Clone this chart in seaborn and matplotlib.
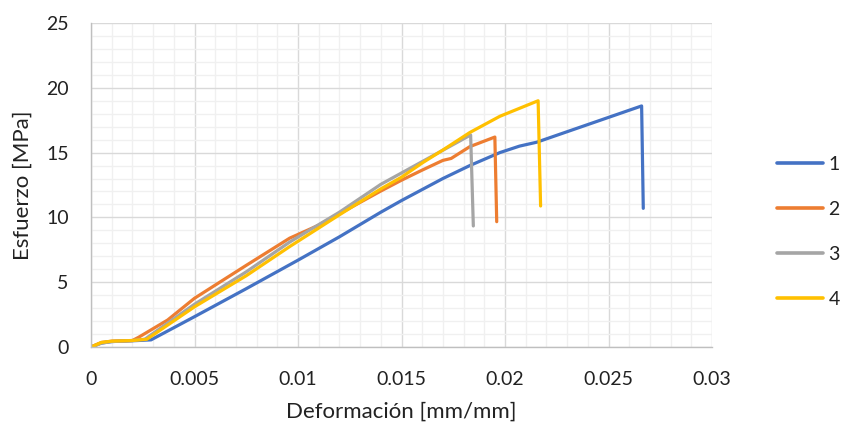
import matplotlib
matplotlib.use("Agg")
import matplotlib.pyplot as plt
import seaborn as sns
import pandas as pd
from matplotlib.ticker import MultipleLocator, FuncFormatter

# Data
x1 = [0, 0.0005, 0.001, 0.002, 0.0029, 0.005, 0.0075, 0.010, 0.012, 0.014, 0.015, 0.017, 0.0183, 0.01975, 0.0207, 0.02153, 0.0266, 0.02668]
y1 = [0, 0.3, 0.42, 0.48, 0.55, 2.34, 4.5, 6.7, 8.5, 10.4, 11.3, 13.0, 14.0, 15.0, 15.5, 15.8, 18.6, 10.7]

x2 = [0, 0.0005, 0.001, 0.002, 0.0023, 0.0037, 0.005, 0.0075, 0.0096, 0.011, 0.01396, 0.015, 0.016, 0.017, 0.0174, 0.0183, 0.01951, 0.0196]
y2 = [0, 0.35, 0.45, 0.5, 0.75, 2.08, 3.76, 6.3, 8.4, 9.4, 12.0, 12.87, 13.65, 14.4, 14.55, 15.46, 16.2, 9.67]

x3 = [0, 0.0005, 0.001, 0.002, 0.0026, 0.005, 0.0075, 0.0096, 0.012, 0.014, 0.01834, 0.01847]
y3 = [0, 0.3, 0.42, 0.5, 0.6, 3.3, 5.8, 8.1, 10.4, 12.55, 16.36, 9.34]

x4 = [0, 0.0005, 0.001, 0.002, 0.0027, 0.005, 0.0075, 0.0096, 0.012, 0.014, 0.015, 0.016, 0.017, 0.0183, 0.01975, 0.0216, 0.02172]
y4 = [0, 0.35, 0.45, 0.5, 0.6, 3.1, 5.5, 7.75, 10.2, 12.2, 13.1, 14.2, 15.2, 16.55, 17.8, 19.0, 10.88]

labels = ["1", "2", "3", "4"]
colors = ["#4472C4", "#ED7D31", "#A5A5A5", "#FFC000"]

frames = []
for lab, xs, ys in zip(labels, [x1, x2, x3, x4], [y1, y2, y3, y4]):
    frames.append(pd.DataFrame({"x": xs, "y": ys, "serie": lab}))
df = pd.concat(frames, ignore_index=True)

sns.set_theme(style="white")
plt.rcParams["font.family"] = ["Lato", "DejaVu Sans"]

fig = plt.figure(figsize=(8.46, 4.30), dpi=100)
ax = fig.add_axes([91/846, 1-347/430, (712-91)/846, (347-23)/430])

sns.lineplot(data=df, x="x", y="y", hue="serie", palette=dict(zip(labels, colors)),
             sort=False, estimator=None, linewidth=2.3, ax=ax, legend=True)

ax.set_xlim(0, 0.03)
ax.set_ylim(0, 25)
ax.xaxis.set_major_locator(MultipleLocator(0.005))
ax.xaxis.set_minor_locator(MultipleLocator(0.001))
ax.yaxis.set_major_locator(MultipleLocator(5))
ax.yaxis.set_minor_locator(MultipleLocator(1))

def fmt_x(v, pos):
    if abs(v) < 1e-12:
        return "0"
    return ("%.3f" % v).rstrip("0").rstrip(".")
ax.xaxis.set_major_formatter(FuncFormatter(fmt_x))

ax.grid(which="major", color="#d9d9d9", linewidth=1.0)
ax.grid(which="minor", color="#f0f0f0", linewidth=1.0)
ax.set_axisbelow(True)
for s in ["top", "right"]:
    ax.spines[s].set_visible(False)
for s in ["left", "bottom"]:
    ax.spines[s].set_color("#bfbfbf")
    ax.spines[s].set_linewidth(1.0)
ax.tick_params(axis="both", which="both", length=0, labelsize=14, colors="#222222")
ax.tick_params(axis="y", pad=16)
ax.tick_params(axis="x", pad=17)

ax.set_xlabel("Deformación [mm/mm]", fontsize=16, color="#222222", labelpad=10)
ax.set_ylabel("Esfuerzo [MPa]", fontsize=16, color="#222222", labelpad=10)

leg = ax.legend(loc="center left", bbox_to_anchor=(1.098, 0.355), frameon=False,
                fontsize=14, handlelength=2.4, handletextpad=0.26, labelspacing=1.45,
                borderpad=0.2, borderaxespad=0.0)
for line in leg.get_lines():
    line.set_linewidth(2.6)
for t in leg.get_texts():
    t.set_color("#222222")

fig.savefig("out.png", dpi=100)
